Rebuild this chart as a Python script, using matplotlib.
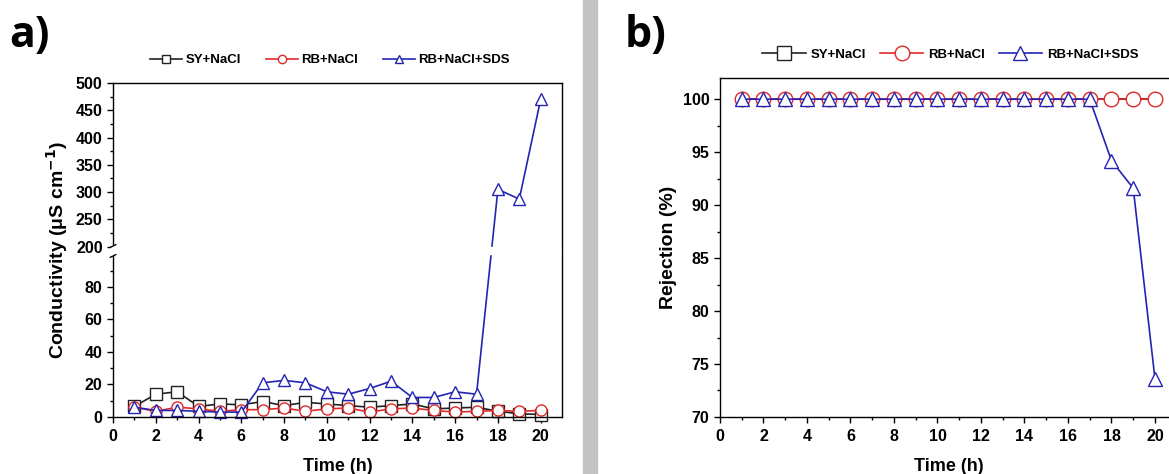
import numpy as np
import matplotlib
matplotlib.use("Agg")
import matplotlib.pyplot as plt
from matplotlib.patches import Rectangle
from matplotlib.ticker import FixedLocator

plt.rcParams['font.family'] = ['Liberation Sans', 'DejaVu Sans']
plt.rcParams['font.weight'] = 'bold'
plt.rcParams['mathtext.default'] = 'regular'

# 数据
time_h = np.arange(1, 21)
labels = ['SY+NaCl', 'RB+NaCl', 'RB+NaCl+SDS']

cond_sy = [6.5, 14, 15.5, 6.5, 8, 7.5, 9.5, 7, 9, 8, 7, 6, 7, 8, 5, 5.5, 6, 3.5, 2, 1.5]
cond_rb = [6, 3.5, 6, 5, 3.5, 4.5, 4.5, 5.5, 3.5, 5, 5.5, 3, 5, 5.5, 4, 3, 3.5, 4, 3.5, 4]
cond_sds = [6, 4, 4, 3.5, 3, 3, 21, 22.5, 21, 15.5, 14, 17.5, 22, 12, 12, 15.5, 14, 305, 287, 470]

rej_sy = [100] * 20
rej_rb = [100] * 20
rej_sds = [100] * 17 + [94.2, 91.6, 73.6]

colors = ['#222222', '#e02a2a', '#2424b4']
markers = ['s', 'o', '^']


# 断轴: 0-100 正常, 200-500 压缩
def fwd(y):
    y = np.asarray(y, dtype=float)
    return np.where(y <= 100, y,
                    np.where(y < 200, 100 + (y - 100) * 0.048,
                             104.8 + (y - 200) * 0.3352))


def inv(z):
    z = np.asarray(z, dtype=float)
    return np.where(z <= 100, z,
                    np.where(z < 104.8, 100 + (z - 100) / 0.048,
                             200 + (z - 104.8) / 0.3352))


fig = plt.figure(figsize=(11.69, 4.74), dpi=100)
fig.patches.append(Rectangle((0.4987, 0), 0.012, 1, transform=fig.transFigure,
                             color='#c3c3c3', zorder=0))

ax1 = fig.add_axes([0.0967, 0.1203, 0.3841, 0.7046])
ax2 = fig.add_axes([0.6159, 0.1203, 0.3907, 0.7151])

# ---- a) ----
for vals, lab, c, m in zip([cond_sy, cond_rb, cond_sds], labels, colors, markers):
    ax1.plot(time_h, vals, color=c, marker=m, ms=8, mfc='white', mec=c,
             mew=1.0, lw=1.2, label=lab, clip_on=False)
ax1.set_yscale('function', functions=(fwd, inv))
ax1.set_ylim(0, 500)
ax1.set_xlim(0, 21)
ax1.yaxis.set_major_locator(FixedLocator([0, 20, 40, 60, 80, 200, 250, 300, 350, 400, 450, 500]))
ax1.yaxis.set_minor_locator(FixedLocator([10, 30, 50, 70, 90, 225, 275, 325, 375, 425, 475]))
ax1.set_yticklabels(['0', '20', '40', '60', '80', '200', '250', '300', '350', '400', '450', '500'])
ax1.axhspan(100, 200, xmin=0.004, xmax=0.996, color='white', zorder=3)
# 断轴标记
ax1.plot([0, 0], [100, 200], color='white', lw=3, zorder=5, clip_on=False)
for yb in (99, 201):
    ax1.annotate('', xy=(0.012, fwd(yb) / fwd(500) + 0.008), xytext=(-0.012, fwd(yb) / fwd(500) - 0.008),
                 xycoords='axes fraction', textcoords='axes fraction',
                 arrowprops=dict(arrowstyle='-', lw=1.0, color='black'), zorder=6)
ax1.set_ylabel(r'Conductivity (μS cm$^{\mathbf{-1}}$)', fontsize=14, fontweight='bold')
leg1 = ax1.legend(loc='center', bbox_to_anchor=(0.483, 1.068), ncol=3, frameon=False,
                  fontsize=9.5, handlelength=2.4, columnspacing=1.9, handletextpad=0.25)
for h in leg1.legend_handles:
    h.set_markersize(6)

# ---- b) ----
sizes_b = [7, 10.5, 10.5]
for vals, lab, c, m, s in zip([rej_sy, rej_rb, rej_sds], labels, colors, markers, sizes_b):
    ax2.plot(time_h, vals, color=c, marker=m, ms=s, mfc='white', mec=c,
             mew=1.0, lw=1.2, label=lab, clip_on=False)
ax2.set_ylim(70, 102)
ax2.set_xlim(0, 21)
ax2.set_yticks(np.arange(70, 101, 5))
ax2.yaxis.set_minor_locator(FixedLocator(np.arange(72.5, 100, 5)))
ax2.set_ylabel('Rejection (%)', fontsize=14, fontweight='bold')
leg2 = ax2.legend(loc='center', bbox_to_anchor=(0.505, 1.068), ncol=3, frameon=False,
                  fontsize=9.5, handlelength=3.3, columnspacing=1.0, handletextpad=0.4)
leg2.legend_handles[0].set_markersize(10.5)

for ax in (ax1, ax2):
    ax.set_xticks(np.arange(0, 21, 2))
    ax.xaxis.set_minor_locator(FixedLocator(np.arange(1, 21, 2)))
    ax.tick_params(which='major', direction='out', length=4, width=1, labelsize=11.5)
    ax.tick_params(axis='x', which='major', pad=5)
    ax.tick_params(which='minor', direction='out', length=2.5, width=1)
    ax.set_xlabel('Time (h)', fontsize=13, fontweight='bold', labelpad=10)
    for s in ax.spines.values():
        s.set_linewidth(1.0)

fig.text(0.008, 0.97, 'a)', fontsize=31, fontweight='bold', va='top', family=['Open Sans', 'DejaVu Sans'])
fig.text(0.534, 0.97, 'b)', fontsize=31, fontweight='bold', va='top', family=['Open Sans', 'DejaVu Sans'])

fig.savefig('out.png', dpi=100)
